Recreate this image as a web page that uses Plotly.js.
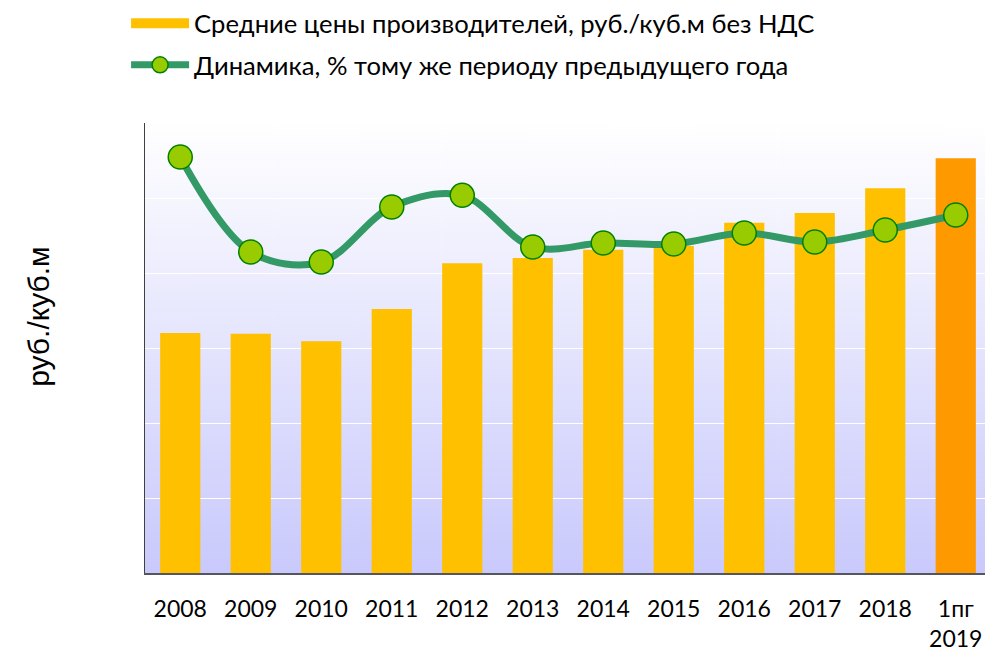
<!DOCTYPE html>
<html>
<head>
<meta charset="utf-8">
<script src="https://cdn.plot.ly/plotly-3.0.1.min.js"></script>
<style>html,body{margin:0;padding:0;background:#fff;}#chart{width:985px;height:652px;}</style>
</head>
<body>
<div id="chart"></div>
<script>
// Categories (x tick labels)
const categories = ['2008','2009','2010','2011','2012','2013','2014','2015','2016','2017','2018','1пг<br>2019'];
// Average producer prices, rub./cub.m excl. VAT (estimated, axis unlabeled)
const prices = [320, 319, 309, 352, 413, 420, 431, 436, 467, 480, 513, 553];
// Dynamics, % to the same period of the previous year (estimated)
const dynamics = [128.5, 100.0, 97.0, 113.5, 117.0, 101.5, 102.7, 102.4, 105.7, 103.0, 106.6, 111.1];

const barName = 'Средние цены производителей, руб./куб.м без НДС';
const lineName = 'Динамика, % тому же периоду предыдущего года';
const yTitle = 'руб./куб.м';

const barColors = categories.map((c, i) => i === categories.length - 1 ? '#FF9900' : '#FFC000');

// gradient background
const cv = document.createElement('canvas');
cv.width = 10; cv.height = 450;
const ctx = cv.getContext('2d');
const g = ctx.createLinearGradient(0, 0, 0, 450);
g.addColorStop(0, '#FFFFFF');
g.addColorStop(1, '#C9C9FC');
ctx.fillStyle = g; ctx.fillRect(0, 0, 10, 450);
const bgUrl = cv.toDataURL('image/png');

const traces = [
  {
    type: 'bar', x: categories, y: prices, name: barName,
    marker: {color: barColors}, showlegend: false, hoverinfo: 'y'
  },
  {
    // legend swatch for the bars
    type: 'scatter', mode: 'lines', x: [null], y: [null], name: barName,
    legend: 'legend', line: {color: '#FFC000', width: 16}, showlegend: true
  },
  {
    type: 'scatter', mode: 'lines+markers', x: categories, y: dynamics, name: lineName,
    yaxis: 'y2', legend: 'legend2',
    line: {color: '#339966', width: 7, shape: 'spline', smoothing: 1},
    marker: {size: 24, color: '#99CC00', line: {color: '#008000', width: 1.5}}
  }
];

const font = {family: 'Lato, "Open Sans", sans-serif', color: '#000'};

const layout = {
  width: 985, height: 652,
  margin: {l: 145, r: 0, t: 123, b: 79, autoexpand: false},
  paper_bgcolor: '#FFFFFF',
  plot_bgcolor: 'rgba(0,0,0,0)',
  font: font,
  bargap: 0.43,
  showlegend: true,
  xaxis: {
    type: 'category', range: [-0.5, 11.415],
    showline: true, linecolor: '#55555F', linewidth: 1.5,
    ticks: '', showgrid: false, zeroline: false,
    tickfont: {size: 23, family: font.family, color: '#000'},
    ticklabelstandoff: 15, fixedrange: true, tickangle: 0, automargin: false
  },
  yaxis: {
    range: [0, 600], dtick: 100,
    showline: true, linecolor: '#404040', linewidth: 1.5,
    showgrid: true, gridcolor: '#FFFFFF', gridwidth: 1,
    zeroline: false, showticklabels: false, ticks: '',
    automargin: false
  },
  yaxis2: {
    overlaying: 'y', side: 'right', range: [3.7, 138.7],
    visible: false, showgrid: false, zeroline: false
  },
  annotations: [{
    text: yTitle, xref: 'paper', yref: 'paper', x: -0.127, y: 0.57,
    xanchor: 'center', yanchor: 'middle', textangle: -90, showarrow: false,
    font: {size: 30, family: '"Liberation Sans", Arial, sans-serif', color: '#000'}
  }],
  legend: {
    xref: 'container', yref: 'container', x: 0.128, y: 1.006, xanchor: 'left', yanchor: 'top',
    font: {size: 25.6, family: font.family, color: '#000'}, itemwidth: 58,
    bgcolor: 'rgba(0,0,0,0)'
  },
  legend2: {
    xref: 'container', yref: 'container', x: 0.128, y: 0.936, xanchor: 'left', yanchor: 'top',
    font: {size: 25.6, family: font.family, color: '#000'}, itemwidth: 58,
    bgcolor: 'rgba(0,0,0,0)'
  },
  images: [{
    source: bgUrl, xref: 'paper', yref: 'paper', x: 0, y: 1, sizex: 1, sizey: 1,
    xanchor: 'left', yanchor: 'top', sizing: 'stretch', layer: 'below'
  }]
};

Plotly.newPlot('chart', traces, layout, {displayModeBar: false, staticPlot: true});
</script>
</body>
</html>
